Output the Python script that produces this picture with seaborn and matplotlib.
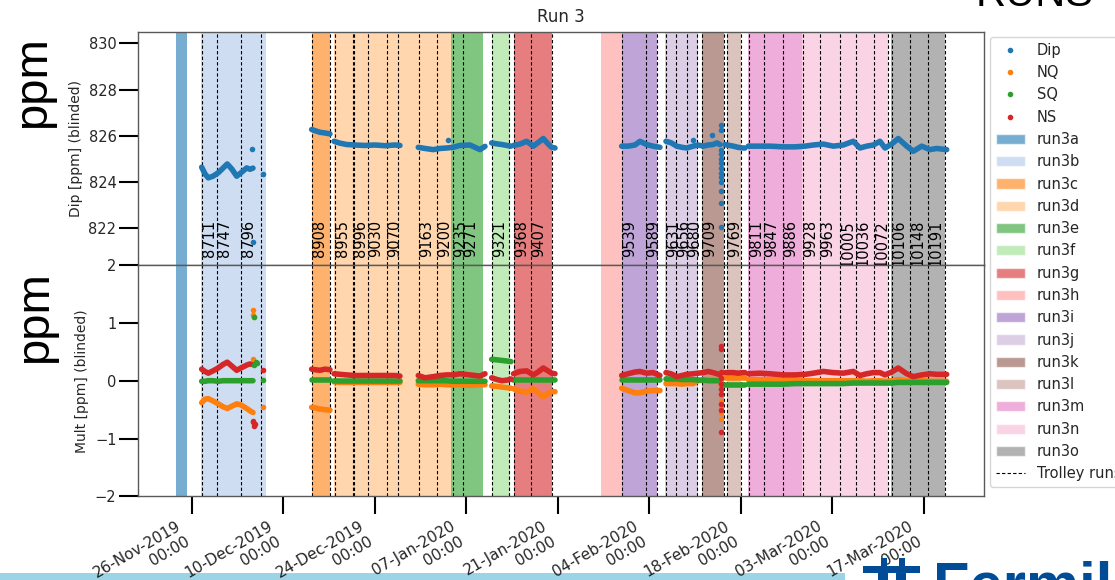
import numpy as np
import pandas as pd
import matplotlib
matplotlib.use("Agg")
import matplotlib.pyplot as plt
import matplotlib.dates as mdates
from matplotlib.lines import Line2D
from matplotlib.patches import Patch, Rectangle
import seaborn as sns

# ---------------- data (days since 26-Nov-2019 00:00) ----------------
T0 = pd.Timestamp("2019-11-26 00:00")

run_names = ["run3a", "run3b", "run3c", "run3d", "run3e", "run3f", "run3g", "run3h",
             "run3i", "run3j", "run3k", "run3l", "run3m", "run3n", "run3o"]
run_start = [-2.49, 1.33, 18.31, 21.73, 39.63, 45.85, 49.31, 62.58,
             65.74, 72.37, 77.98, 81.81, 85.11, 93.28, 106.90]
run_end = [-0.72, 11.32, 21.11, 39.63, 44.48, 48.65, 55.13, 65.74,
           71.19, 77.46, 81.40, 83.95, 93.28, 106.44, 115.21]

trolley_day = [1.48, 3.87, 7.50, 10.51, 18.41, 21.11, 21.83, 24.59, 24.79, 26.97,
               29.88, 31.47, 34.78, 37.53, 39.98, 41.42, 45.95, 48.55, 49.31, 51.87,
               55.03, 65.84, 69.46, 71.10, 72.52, 74.05, 75.69, 77.22, 77.98, 81.40,
               81.90, 83.95, 85.22, 87.52, 90.38, 93.44, 96.08, 99.14, 101.55, 104.39,
               106.53, 107.05, 109.85, 112.65, 115.21]
trolley_label = ["8711", "8747", "8796", "", "8908", "", "8955", "8996", "", "9030",
                 "9070", "", "9163", "9200", "9235", "9271", "9321", "", "9368", "9407",
                 "", "9539", "9589", "", "9631", "9656", "9680", "", "9709", "",
                 "9769", "", "9811", "9847", "9886", "9928", "9963", "10005", "10036", "10072",
                 "", "10106", "10148", "10191", ""]

tick_dates = ["2019-11-26", "2019-12-10", "2019-12-24", "2020-01-07", "2020-01-21",
              "2020-02-04", "2020-02-18", "2020-03-03", "2020-03-17"]

# continuous measurement segments
seg_len = [13, 5, 9, 10, 5, 9, 7, 12, 6, 24]
seg_day = [1.48, 1.99, 2.49, 3.21, 4.02, 4.74, 5.40, 6.12, 6.84, 7.50, 8.37, 8.87, 9.33,
           18.31, 18.82, 19.58, 20.35, 21.11,
           21.73, 22.64, 23.67, 24.94, 26.47, 28.00, 29.53, 31.06, 31.82,
           34.62, 35.65, 36.92, 37.94, 38.97, 39.93, 41.00, 42.53, 44.06, 44.83,
           45.85, 46.67, 47.43, 48.20, 48.81,
           49.19, 50.18, 51.21, 52.22, 52.94, 53.75, 54.47, 55.03, 55.54,
           65.74, 66.71, 67.78, 68.54, 69.57, 70.53, 71.60,
           72.52, 73.29, 74.16, 74.97, 75.69, 76.70, 77.42, 78.23, 78.95, 79.71, 80.33, 80.78,
           81.55, 82.05, 82.82, 83.54, 84.35, 84.61,
           85.11, 86.90, 88.43, 90.47, 92.26, 93.79, 95.06, 96.59, 98.12, 99.65,
           101.18, 102.20, 103.23, 104.24, 105.26, 106.03, 107.05, 108.06, 109.35, 110.36,
           111.64, 112.91, 113.94, 115.47]

dip_val = [824.64, 824.35, 824.18, 824.25, 824.40, 824.60, 824.78, 824.55, 824.25, 824.40, 824.61, 824.55, 824.60,
           826.27, 826.22, 826.15, 826.12, 826.08,
           825.76, 825.68, 825.62, 825.60, 825.58, 825.60, 825.57, 825.60, 825.58,
           825.50, 825.45, 825.40, 825.45, 825.47, 825.50, 825.58, 825.60, 825.40, 825.54,
           825.69, 825.65, 825.62, 825.58, 825.55,
           825.58, 825.64, 825.76, 825.55, 825.70, 825.88, 825.65, 825.50, 825.47,
           825.55, 825.55, 825.60, 825.76, 825.62, 825.55, 825.50,
           825.76, 825.70, 825.55, 825.50, 825.47, 825.55, 825.60, 825.55, 825.60, 825.62, 825.69, 825.62,
           825.62, 825.59, 825.55, 825.50, 825.47, 825.47,
           825.55, 825.55, 825.55, 825.52, 825.52, 825.55, 825.60, 825.64, 825.55, 825.60,
           825.76, 825.47, 825.55, 825.60, 825.76, 825.47, 825.64, 825.88, 825.55, 825.33,
           825.55, 825.40, 825.45, 825.40]

ns_val = [0.20, 0.16, 0.13, 0.17, 0.22, 0.28, 0.32, 0.25, 0.18, 0.22, 0.27, 0.29, 0.28,
          0.20, 0.19, 0.18, 0.20, 0.19,
          0.12, 0.11, 0.10, 0.09, 0.09, 0.09, 0.09, 0.09, 0.08,
          0.09, 0.05, 0.07, 0.09, 0.10, 0.10, 0.12, 0.10, 0.08, 0.12,
          0.05, 0.02, 0.00, 0.01, 0.03,
          0.12, 0.16, 0.17, 0.10, 0.15, 0.22, 0.17, 0.13, 0.12,
          0.09, 0.12, 0.15, 0.16, 0.13, 0.14, 0.09,
          0.14, 0.12, 0.07, 0.09, 0.11, 0.12, 0.13, 0.14, 0.16, 0.14, 0.12, 0.10,
          0.14, 0.14, 0.14, 0.13, 0.14, 0.14,
          0.12, 0.13, 0.12, 0.10, 0.10, 0.11, 0.13, 0.16, 0.14, 0.13,
          0.16, 0.09, 0.12, 0.14, 0.14, 0.10, 0.15, 0.22, 0.12, 0.07,
          0.10, 0.12, 0.11, 0.11]

sq_val = [-0.01, -0.01, 0.00, 0.00, -0.01, 0.00, 0.00, 0.00, 0.00, 0.00, 0.00, 0.00, 0.00,
          0.01, 0.01, 0.01, 0.01, 0.01,
          -0.01, -0.01, -0.01, -0.01, -0.01, -0.01, -0.01, -0.01, -0.01,
          0.00, 0.00, 0.00, 0.00, 0.00, -0.01, -0.01, -0.01, -0.01, -0.01,
          0.37, 0.36, 0.35, 0.34, 0.33,
          0.01, 0.01, 0.01, 0.01, 0.01, 0.01, 0.01, 0.01, 0.01,
          0.02, 0.02, 0.02, 0.02, 0.02, 0.02, 0.02,
          0.03, 0.03, 0.03, 0.02, 0.02, 0.02, 0.01, 0.01, 0.00, 0.00, 0.00, 0.00,
          -0.07, -0.07, -0.07, -0.07, -0.07, -0.07,
          -0.06, -0.06, -0.06, -0.06, -0.05, -0.05, -0.05, -0.05, -0.05, -0.05,
          -0.04, -0.04, -0.04, -0.04, -0.04, -0.04, -0.04, -0.03, -0.03, -0.03,
          -0.03, -0.03, -0.03, -0.03]

nq_val = [-0.38, -0.32, -0.31, -0.35, -0.40, -0.45, -0.48, -0.44, -0.40, -0.42, -0.48, -0.52, -0.55,
          -0.46, -0.47, -0.49, -0.50, -0.51,
          -0.02, -0.03, -0.03, -0.03, -0.03, -0.03, -0.03, -0.03, -0.03,
          -0.06, -0.07, -0.07, -0.06, -0.07, -0.07, -0.07, -0.08, -0.07, -0.07,
          -0.09, -0.10, -0.11, -0.12, -0.13,
          -0.14, -0.18, -0.20, -0.14, -0.20, -0.28, -0.22, -0.19, -0.19,
          -0.13, -0.17, -0.21, -0.21, -0.18, -0.17, -0.17,
          -0.05, -0.05, -0.05, -0.06, -0.05, -0.05, 0.00, 0.01, 0.02, 0.02, 0.00, -0.03,
          0.05, 0.05, 0.05, 0.05, 0.05, 0.05,
          0.02, 0.02, 0.02, 0.01, 0.01, 0.00, 0.00, 0.00, 0.00, 0.00,
          0.00, 0.00, -0.01, 0.00, 0.00, -0.01, 0.00, 0.02, 0.00, -0.01,
          0.00, -0.01, -0.01, -0.01]

# isolated points / outliers
dip_out_day = [9.13, 9.26, 10.82, 39.17, 76.70, 79.51,
               80.89, 80.89, 80.89, 80.89, 80.89, 80.89, 80.89, 80.89, 80.89, 80.89, 80.89, 80.89, 80.89]
dip_out_val = [825.43, 821.40, 824.35, 825.83, 825.83, 826.02,
               826.45, 826.25, 825.40, 825.20, 825.00, 824.80, 824.60, 824.40, 824.20, 824.00, 823.60, 823.10, 822.05]
nq_out_day = [9.33, 9.38, 9.49, 9.41, 10.82, 80.89, 80.89, 80.89, 80.89, 80.89, 80.89]
nq_out_val = [1.22, 1.13, 1.10, 0.37, -0.45, -0.15, -0.25, -0.35, -0.45, -0.55, -0.67]
sq_out_day = [9.49, 9.56, 9.72, 9.90, 10.82]
sq_out_val = [1.10, 0.28, 0.32, 0.30, 0.02]
ns_out_day = [9.38, 9.41, 9.49, 9.64, 10.82, 80.89, 80.89, 80.89, 80.89, 80.89, 80.89, 80.89, 80.89, 80.89, 80.89]
ns_out_val = [-0.72, -0.70, -0.78, -0.75, 0.19, 0.60, 0.55, 0.15, 0.05, -0.05, -0.15, -0.23, -0.40, -0.50, -0.89]

# ---------------- helpers ----------------
def to_dt(days):
    return T0 + pd.to_timedelta(np.asarray(days, dtype=float), unit="D")

def to_num(days):
    return mdates.date2num(to_dt(days))

# ---------------- style ----------------
sns.set_style("ticks")
plt.rcParams["font.family"] = ["DejaVu Sans"]
plt.rcParams["axes.edgecolor"] = "0.3"

blue, orange, green, red = sns.color_palette("tab10", 4)
span_colors = sns.color_palette("tab20", 15)

W, H = 1115, 580
fig = plt.figure(figsize=(W / 100, H / 100), dpi=100)
ax1 = fig.add_axes([138 / W, 1 - 265 / H, 846 / W, 233.3 / H])
ax2 = fig.add_axes([138 / W, 1 - 496.4 / H, 846 / W, 231.4 / H], sharex=ax1)

df = pd.DataFrame({
    "t": to_dt(seg_day),
    "seg": np.repeat(np.arange(len(seg_len)), seg_len),
    "Dip": dip_val, "NQ": nq_val, "SQ": sq_val, "NS": ns_val,
})

# run periods and trolley runs
span_handles = []
for name, s, e, c in zip(run_names, run_start, run_end, span_colors):
    for ax in (ax1, ax2):
        ax.axvspan(to_num([s])[0], to_num([e])[0], color=c, alpha=0.6, lw=0, zorder=0)
    span_handles.append(Patch(facecolor=c, alpha=0.6, label=name))

for d, lab in zip(trolley_day, trolley_label):
    xn = to_num([d])[0]
    for ax in (ax1, ax2):
        ax.axvline(xn, color="black", ls=(0, (3, 2)), lw=0.8, zorder=1)
    if lab:
        ax1.text(xn, 822.36, lab, rotation=90, ha="left", va="top",
                 fontsize=10.5, color="black", zorder=4)

# measurement traces
lw = 4.0
sns.lineplot(data=df, x="t", y="Dip", units="seg", estimator=None, color=blue,
             lw=lw, ax=ax1, legend=False, zorder=5)
for col, c in (("NQ", orange), ("SQ", green), ("NS", red)):
    sns.lineplot(data=df, x="t", y=col, units="seg", estimator=None, color=c,
                 lw=lw, ax=ax2, legend=False, zorder=5)

sns.scatterplot(x=to_dt(dip_out_day), y=dip_out_val, color=blue, s=16, linewidth=0, ax=ax1, zorder=6)
sns.scatterplot(x=to_dt(nq_out_day), y=nq_out_val, color=orange, s=16, linewidth=0, ax=ax2, zorder=6)
sns.scatterplot(x=to_dt(sq_out_day), y=sq_out_val, color=green, s=16, linewidth=0, ax=ax2, zorder=6)
sns.scatterplot(x=to_dt(ns_out_day), y=ns_out_val, color=red, s=16, linewidth=0, ax=ax2, zorder=6)

# axes
ax1.set_ylim(820.41, 830.5)
ax1.set_yticks([822, 824, 826, 828, 830])
ax2.set_ylim(-2, 2)
ax2.set_yticks([-2, -1, 0, 1, 2])
ax1.set_xlim(to_num([-8.26])[0], to_num([121.18])[0])
ax2.set_xticks(mdates.date2num(pd.to_datetime(tick_dates)))
ax2.xaxis.set_major_formatter(mdates.DateFormatter("%d-%b-%Y\n%H:%M"))

ax1.set_ylabel("Dip [ppm] (blinded)", fontsize=10)
ax2.set_ylabel("Mult [ppm] (blinded)", fontsize=10)
ax1.set_xlabel("")
ax2.set_xlabel("")
ax1.set_title("Run 3", fontsize=12, pad=7)

for ax in (ax1, ax2):
    ax.tick_params(axis="y", length=13.5, width=1.5, labelsize=10.5, pad=2,
                   color="black", labelcolor="0.15")
    for sp in ax.spines.values():
        sp.set_color("0.35")
        sp.set_linewidth(1.0)
ax1.tick_params(axis="x", bottom=False, labelbottom=False)
ax2.tick_params(axis="x", length=13, width=1.5, labelsize=11, pad=3,
                color="black", labelcolor="0.15")
plt.setp(ax2.get_xticklabels(), rotation=30, ha="right")

# legend
handles = [Line2D([0], [0], marker="o", ls="none", ms=3, color=c, label=n)
           for n, c in (("Dip", blue), ("NQ", orange), ("SQ", green), ("NS", red))]
handles += span_handles
handles.append(Line2D([0], [0], color="black", ls=(0, (3, 2)), lw=0.8, label="Trolley runs"))
fig.legend(handles=handles, loc="upper left", bbox_to_anchor=(990 / W, 1 - 37 / H),
           fontsize=10.5, frameon=True, framealpha=0.8, edgecolor="0.8", borderaxespad=0)

# slide decorations
fig.text(11 / W, 1 - 81.7 / H, "ppm", rotation=90, ha="left", va="center",
         fontsize=34, family="Liberation Sans", color="black")
fig.text(13 / W, 1 - 317 / H, "ppm", rotation=90, ha="left", va="center",
         fontsize=34, family="Liberation Sans", color="black")
fig.text(976 / W, 1 - 6 / H, "RUNS", ha="left", va="baseline",
         fontsize=30, family="Liberation Sans", color="black")
fig.add_artist(Rectangle((0, 0), 845 / W, 7 / H, transform=fig.transFigure,
                         color="#9bd3e7", lw=0, zorder=-1))
fig.text(933 / W, 1 - 604 / H, "Fermilab", ha="left", va="baseline", fontsize=43,
         fontweight="bold", family="Liberation Sans", color="#004c97")
logo = "#004c97"
for (x0, y0, w, h) in [(881, 558, 6, 8), (899, 558, 6, 8), (863, 566, 57, 7),
                       (878, 573, 10, 7), (896, 573, 10, 7)]:
    fig.add_artist(Rectangle((x0 / W, 1 - (y0 + h) / H), w / W, h / H,
                             transform=fig.transFigure, color=logo, lw=0))

fig.savefig("out.png", dpi=100)
